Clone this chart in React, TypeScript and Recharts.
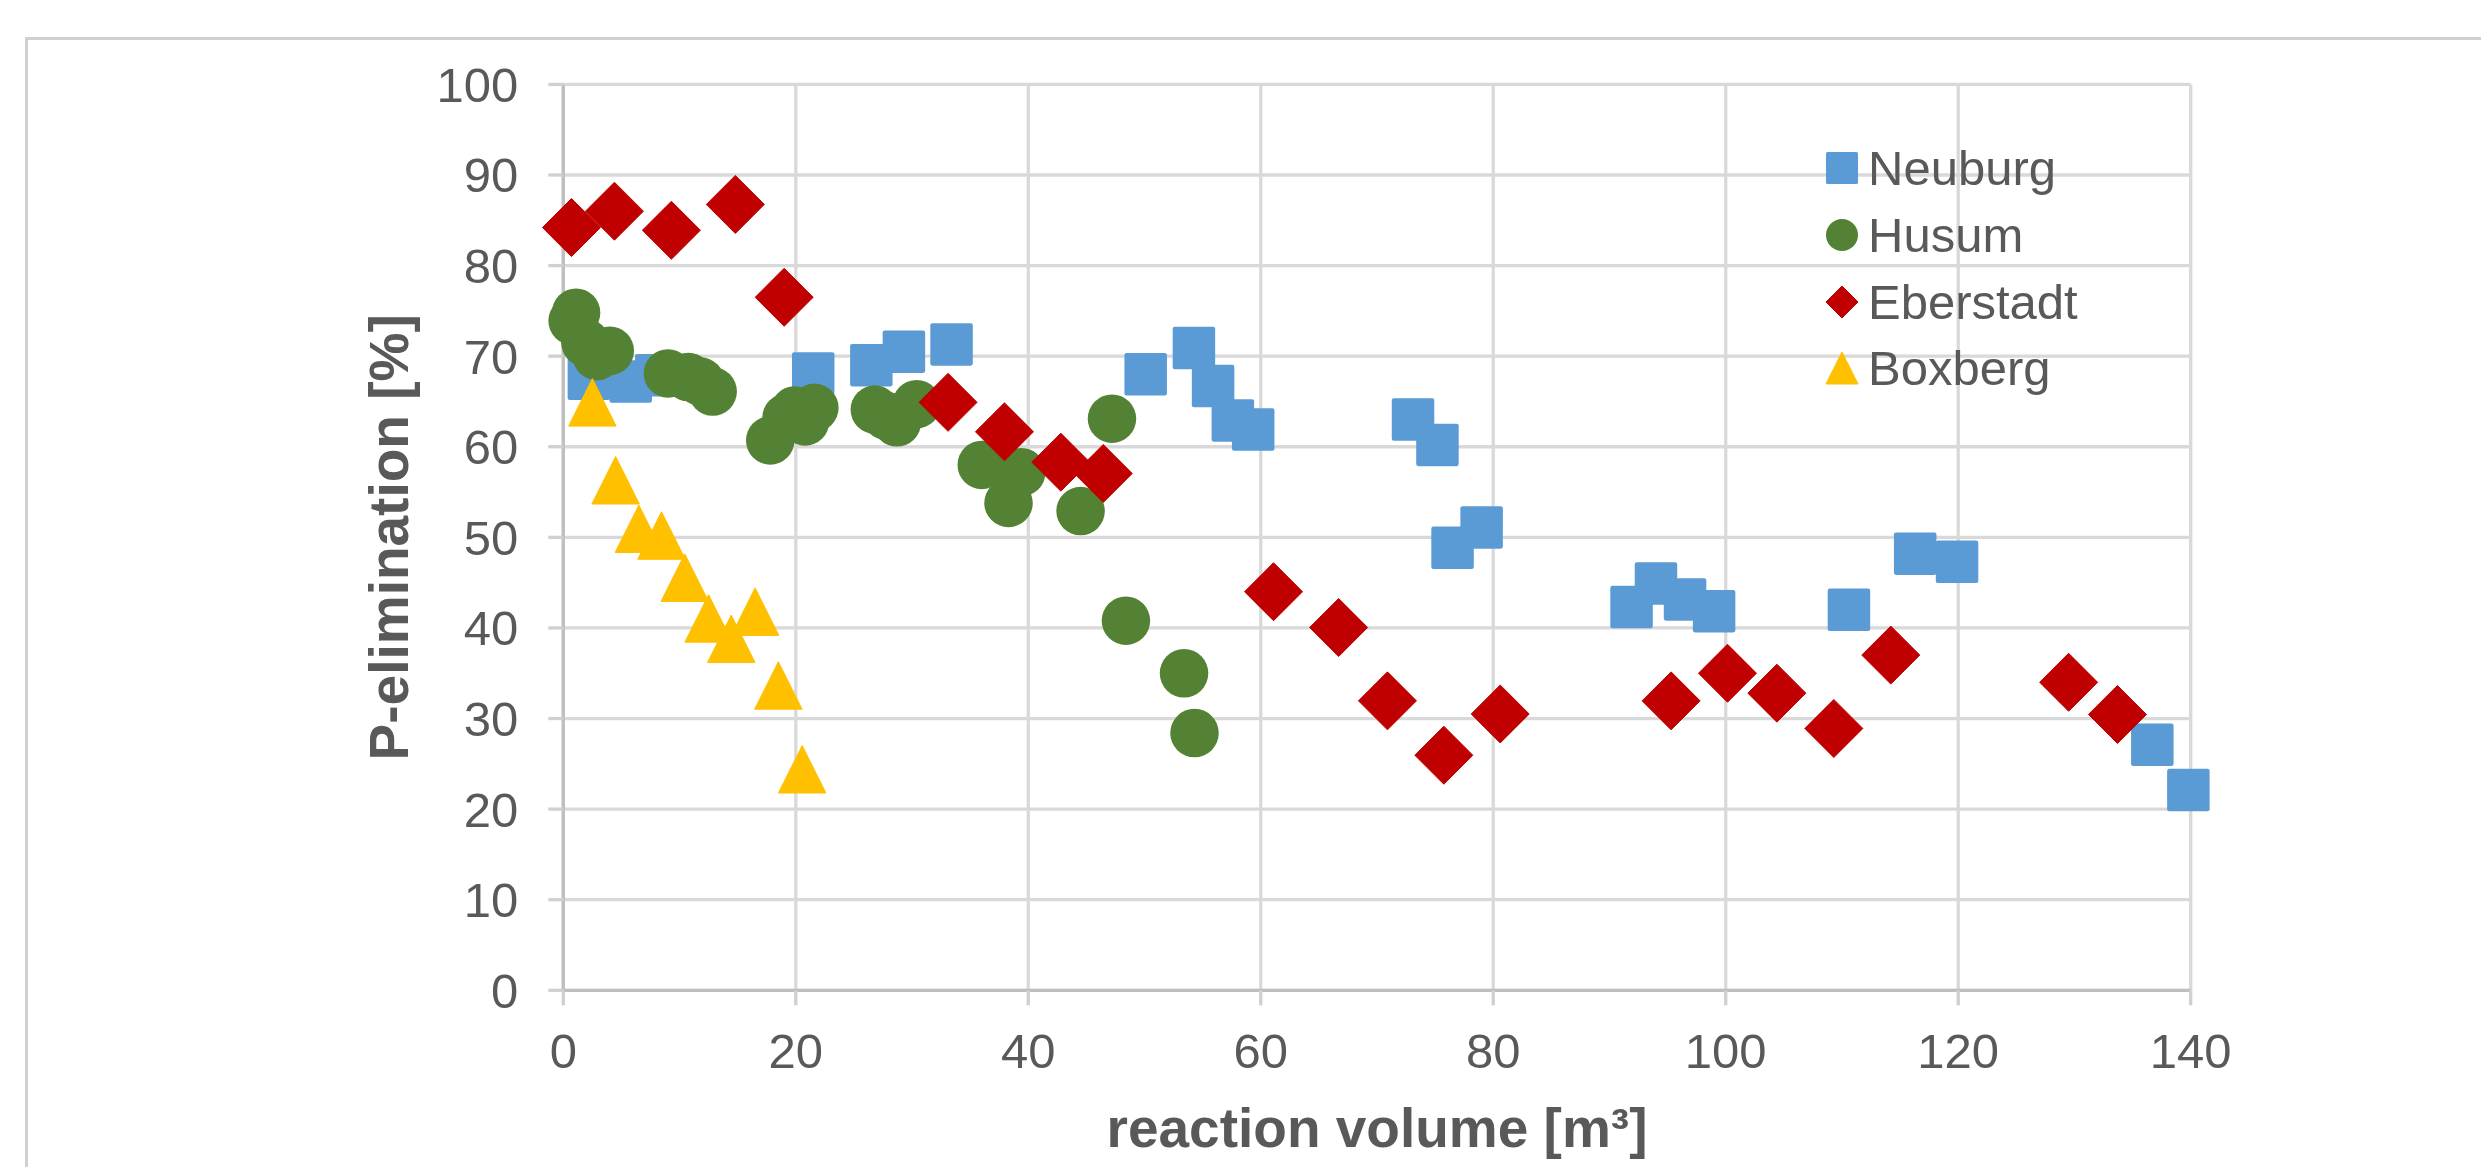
import React from 'react';
import { ScatterChart, Scatter, XAxis, YAxis, CartesianGrid, Legend } from 'recharts';

const xTicks = [0, 20, 40, 60, 80, 100, 120, 140];
const yTicks = [0, 10, 20, 30, 40, 50, 60, 70, 80, 90, 100];

const neuburg = [
  { x: 2.2, y: 67.5 }, { x: 5.8, y: 67.2 }, { x: 8.0, y: 67.9 }, { x: 21.5, y: 68.1 },
  { x: 26.5, y: 69.0 }, { x: 29.3, y: 70.5 }, { x: 33.4, y: 71.3 }, { x: 50.1, y: 68.0 },
  { x: 54.25, y: 70.9 }, { x: 55.9, y: 66.7 }, { x: 57.6, y: 62.9 }, { x: 59.35, y: 61.9 },
  { x: 73.1, y: 63.0 }, { x: 75.2, y: 60.2 }, { x: 76.5, y: 48.85 }, { x: 79.0, y: 51.1 },
  { x: 91.9, y: 42.3 }, { x: 94.0, y: 44.9 }, { x: 96.5, y: 43.15 }, { x: 99.0, y: 41.85 },
  { x: 110.6, y: 42.0 }, { x: 116.3, y: 48.2 }, { x: 119.9, y: 47.3 }, { x: 136.7, y: 27.1 },
  { x: 139.8, y: 22.1 },
];

const husum = [
  { x: 1.1, y: 74.8 }, { x: 0.8, y: 73.9 }, { x: 1.9, y: 71.5 }, { x: 2.9, y: 70.0 },
  { x: 4.0, y: 70.6 }, { x: 9.0, y: 68.1 }, { x: 10.75, y: 67.7 }, { x: 11.8, y: 67.2 },
  { x: 12.85, y: 66.1 }, { x: 17.8, y: 60.7 }, { x: 19.2, y: 63.2 }, { x: 19.9, y: 64.0 },
  { x: 20.8, y: 62.8 }, { x: 21.6, y: 64.3 }, { x: 26.8, y: 64.1 }, { x: 27.8, y: 63.4 },
  { x: 28.7, y: 62.7 }, { x: 30.4, y: 64.7 }, { x: 36.0, y: 58.0 }, { x: 38.3, y: 53.8 },
  { x: 39.4, y: 57.2 }, { x: 44.5, y: 52.9 }, { x: 47.2, y: 63.1 }, { x: 48.4, y: 40.8 },
  { x: 53.4, y: 35.0 }, { x: 54.3, y: 28.4 },
];

const eberstadt = [
  { x: 0.7, y: 84.2 }, { x: 4.4, y: 86.0 }, { x: 9.3, y: 83.9 }, { x: 14.8, y: 86.75 },
  { x: 19.0, y: 76.5 }, { x: 33.1, y: 64.9 }, { x: 37.95, y: 61.65 }, { x: 42.8, y: 58.3 },
  { x: 46.45, y: 57.05 }, { x: 61.1, y: 44.0 }, { x: 66.7, y: 40.05 }, { x: 70.9, y: 31.95 },
  { x: 75.75, y: 25.95 }, { x: 80.6, y: 30.5 }, { x: 95.3, y: 31.95 }, { x: 100.15, y: 35.0 },
  { x: 104.4, y: 32.8 }, { x: 109.3, y: 28.9 }, { x: 114.2, y: 37.0 }, { x: 129.5, y: 34.0 },
  { x: 133.7, y: 30.45 },
];

const boxberg = [
  { x: 2.5, y: 64.9 }, { x: 4.5, y: 56.3 }, { x: 6.5, y: 50.95 }, { x: 8.45, y: 50.2 },
  { x: 10.45, y: 45.55 }, { x: 12.5, y: 41.05 }, { x: 14.45, y: 38.8 }, { x: 16.5, y: 41.8 },
  { x: 18.5, y: 33.65 }, { x: 20.55, y: 24.4 },
];

const seriesNames = ['Neuburg', 'Husum', 'Eberstadt', 'Boxberg'];
const seriesColors = ['#5B9BD5', '#548235', '#C00000', '#FFC000'];
const seriesShapes = ['square', 'circle', 'diamond', 'triangle'];
const seriesData = [neuburg, husum, eberstadt, boxberg];
const markerSizes: Record<string, number> = { square: 42.5, circle: 48.5, diamond: 58, triangle: 47.5 };

const FONT = '"Liberation Sans", Arial, sans-serif';
const TEXT = '#595959';
const GRID = { stroke: '#d9d9d9', strokeWidth: 3.3 };

function marker(kind: string, cx: number, cy: number, size: number, color: string, key?: any) {
  const h = size / 2;
  switch (kind) {
    case 'square':
      return <rect key={key} x={cx - h} y={cy - h} width={size} height={size} rx={size * 0.05} fill={color} />;
    case 'circle':
      return <circle key={key} cx={cx} cy={cy} r={h} fill={color} />;
    case 'diamond':
      return (
        <polygon key={key} points={`${cx},${cy - h} ${cx + h},${cy} ${cx},${cy + h} ${cx - h},${cy}`}
          fill={color} stroke={color} strokeWidth={1} strokeLinejoin="round" />
      );
    default:
      return (
        <polygon key={key} points={`${cx},${cy - h} ${cx + h},${cy + h} ${cx - h},${cy + h}`}
          fill={color} stroke={color} strokeWidth={1} strokeLinejoin="round" />
      );
  }
}

const LegendContent = () => (
  <div style={{ fontFamily: FONT, fontSize: 49, color: TEXT }}>
    {seriesNames.map((name, i) => (
      <div key={name} style={{ display: 'flex', alignItems: 'center', height: 66.7, whiteSpace: 'nowrap' }}>
        <svg width={34} height={34} style={{ marginRight: 9, display: 'block' }}>
          {marker(seriesShapes[i], 17, 17, 32, seriesColors[i])}
        </svg>
        <span style={{ lineHeight: 'normal' }}>{name}</span>
      </div>
    ))}
  </div>
);

const XTitle = (props: any) => {
  const vb = props.viewBox || { x: 563.3, y: 990.3, width: 1627.4, height: 176.7 };
  return (
    <text x={vb.x + vb.width / 2} y={vb.y + vb.height - 20} textAnchor="middle"
      fill={TEXT} fontFamily={FONT} fontSize={55} fontWeight="bold">
      reaction volume [m³]
    </text>
  );
};

const YTitle = (props: any) => {
  const vb = props.viewBox || { x: 0, y: 84.4, width: 563.3, height: 905.9 };
  const x = vb.x + 408;
  const y = vb.y + vb.height / 2;
  return (
    <text x={x} y={y} textAnchor="middle" transform={`rotate(-90, ${x}, ${y})`}
      fill={TEXT} fontFamily={FONT} fontSize={55} fontWeight="bold">
      P-elimination [%]
    </text>
  );
};

export default function App() {
  return (
    <div style={{ position: 'absolute', left: 0, top: 0, width: 2481, height: 1167, overflow: 'hidden', background: '#fff' }}>
      <div style={{ position: 'absolute', left: 24.5, top: 37, width: 2600, height: 1300, border: '3px solid #d0d0d0', boxSizing: 'border-box' }} />
      <div style={{ position: 'absolute', left: 0, top: 0 }}>
        <ScatterChart width={2481} height={1167} margin={{ top: 84.4, right: 290.3, left: 0, bottom: 0 }}>
          <CartesianGrid stroke="#d9d9d9" strokeWidth={3.3} horizontal={GRID} vertical={GRID} />
          <XAxis
            type="number" dataKey="x" domain={[0, 140]} ticks={xTicks} interval={0}
            height={176.7} tickSize={15} tickMargin={28}
            axisLine={{ stroke: '#bfbfbf', strokeWidth: 3.3 }}
            tickLine={{ stroke: '#d0d0d0', strokeWidth: 3.3 }}
            tick={{ fill: TEXT, fontSize: 49, fontFamily: FONT }}
            label={{ content: XTitle }}
          />
          <YAxis
            type="number" dataKey="y" domain={[0, 100]} ticks={yTicks} interval={0}
            width={563.3} tickSize={15} tickMargin={30}
            axisLine={{ stroke: '#bfbfbf', strokeWidth: 3.3 }}
            tickLine={{ stroke: '#d0d0d0', strokeWidth: 3.3 }}
            tick={{ fill: TEXT, fontSize: 49, fontFamily: FONT }}
            label={{ content: YTitle }}
          />
          <Legend layout="vertical" align="center" verticalAlign="middle"
            wrapperStyle={{ left: 1825, top: 135, width: 'auto', height: 'auto' }}
            content={LegendContent} />
          {seriesData.map((data, i) => (
            <Scatter
              key={seriesNames[i]} name={seriesNames[i]} data={data} fill={seriesColors[i]}
              isAnimationActive={false}
              shape={(p: any) => marker(seriesShapes[i], p.cx, p.cy, markerSizes[seriesShapes[i]], seriesColors[i])}
            />
          ))}
        </ScatterChart>
      </div>
    </div>
  );
}
